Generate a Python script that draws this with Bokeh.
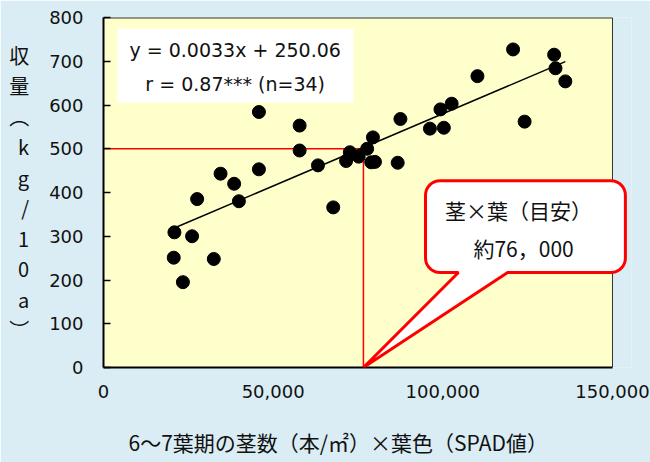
import numpy as np
from bokeh.plotting import figure
from bokeh.models import (Label, BoxAnnotation, PolyAnnotation, Title,
                          NumeralTickFormatter, Range1d)
from bokeh.embed import file_html
from bokeh.resources import INLINE

# ---------------- data ----------------
stem_x_leaf = [20700, 20900, 23400, 26100, 27600, 32500, 34500, 38500, 39900,
               45800, 45800, 57800, 57800, 63200, 67700, 71500, 72600, 75200,
               77700, 79400, 78900, 80000, 86700, 87500, 96200, 100300, 99300,
               102600, 110200, 120700, 124100, 132800, 133200, 136100]
yield_kg = [251, 309, 195, 300, 385, 248, 443, 420, 380,
            584, 453, 553, 496, 462, 366, 472, 492, 482,
            500, 526, 469, 470, 468, 568, 546, 548, 590,
            603, 666, 727, 562, 715, 684, 654]

x_ticks = [0, 50000, 100000, 150000]
y_ticks = [0, 100, 200, 300, 400, 500, 600, 700, 800]
x_max, y_max = 150000, 800

slope = 0.0033
intercept = 250.06
target_x = 76600     # 約76,000 (threshold of stems x leaf colour)
target_y = 500       # target yield 500 kg/10a

eq_lines = ["y = 0.0033x + 250.06", "r = 0.87*** (n=34)"]
callout_lines = ["茎×葉（目安）", "約76，000"]
x_title = "6～7葉期の茎数（本/㎡）×葉色（SPAD値）"
y_title_chars = ["収", "量", "︵", "k", "g", "/", "1", "0", "a", "︶"]

# ---------------- styling ----------------
BG = "#daedf4"
PLOT_BG = "#ffffcc"
TXT = "#111111"
NUM_FONT = "DejaVu Sans"
JP_FONT = "Noto Sans CJK JP"

# the frame is a little wider than the data area so that the balloon
# (which sticks out past the right border) is not clipped
p = figure(width=650, height=462,
           x_range=Range1d(0, 155600), y_range=Range1d(0, y_max),
           output_backend="svg", toolbar_location=None,
           min_border_left=103, min_border_right=19,
           min_border_top=17, min_border_bottom=95)

p.background_fill_color = BG
p.border_fill_color = BG
p.outline_line_color = None
p.grid.visible = False

# plot area (data area) fill and its thin top/right border
p.add_layout(BoxAnnotation(left=0, right=x_max, bottom=0, top=y_max,
                           fill_color=PLOT_BG, fill_alpha=1.0,
                           line_color=None, level="underlay"))
p.line([0, x_max], [y_max, y_max], line_color="#333333", line_width=2)
p.line([x_max, x_max], [0, y_max], line_color="#333333", line_width=1)

for ax in (p.xaxis[0], p.yaxis[0]):
    ax.axis_line_color = "black"
    ax.axis_line_width = 2
    ax.minor_tick_line_color = None
    ax.major_label_text_font = NUM_FONT
    ax.major_label_text_font_size = "18px"
    ax.major_label_text_color = TXT

p.xaxis.bounds = (0, x_max)
p.xaxis.ticker = x_ticks
p.xaxis.formatter = NumeralTickFormatter(format="0,0")
p.xaxis.major_tick_in = 0
p.xaxis.major_tick_out = 0
p.xaxis.major_label_standoff = 17

# x-axis title, placed below the axis and centred under the data area
x_title_box = Title(text=x_title, align="left", offset=25,
                    text_font=JP_FONT, text_font_size="21px",
                    text_font_style="normal", text_color=TXT)
try:
    x_title_box.vertical_align = "top"
    x_title_box.standoff = 0
    x_title_box.padding = dict(left=0, right=0, top=26, bottom=0)
except Exception:
    x_title_box.vertical_align = "bottom"
    x_title_box.standoff = 22
p.add_layout(x_title_box, "below")

p.yaxis.ticker = y_ticks
p.yaxis.major_tick_in = 7
p.yaxis.major_tick_out = 0
p.yaxis.major_tick_line_width = 1.5
p.yaxis.major_tick_line_color = "black"
p.yaxis.major_label_standoff = 20
# vertical stacked y-axis title
p.yaxis.axis_label = "\n".join(y_title_chars)
p.yaxis.axis_label_orientation = "horizontal"
p.yaxis.axis_label_text_font = JP_FONT
p.yaxis.axis_label_text_font_size = "20px"
p.yaxis.axis_label_text_font_style = "normal"
p.yaxis.axis_label_text_color = TXT
p.yaxis.axis_label_text_line_height = 1.05
p.yaxis.axis_label_standoff = 17

# red guide lines
p.line([0, target_x], [target_y, target_y], line_color="red", line_width=1.5)
p.line([target_x, target_x], [0, target_y], line_color="red", line_width=1.5)

# regression line
x_fit = [min(stem_x_leaf), max(stem_x_leaf)]
y_fit = [slope * v + intercept for v in x_fit]
p.line(x_fit, y_fit, line_color="black", line_width=1.5)

# points
p.scatter(stem_x_leaf, yield_kg, size=13, color="black")

# equation box
p.add_layout(BoxAnnotation(left=4100, right=73700, bottom=606, top=775,
                           fill_color="white", fill_alpha=1.0,
                           line_color=None))
for txt, yy in zip(eq_lines, [725, 649]):
    p.add_layout(Label(x=38800, y=yy, text=txt, text_font=NUM_FONT,
                       text_font_size="19px", text_color=TXT,
                       text_align="center", text_baseline="middle"))

# callout balloon
def balloon(l, r, b, t, rx, ry, tail_l, tail_r, tip_x, tip_y, n=10):
    xs, ys = [tip_x, tail_r], [tip_y, b]

    def arc(cx, cy, a0, a1):
        for a in np.linspace(a0, a1, n):
            xs.append(cx + rx * np.cos(a))
            ys.append(cy + ry * np.sin(a))
    arc(r - rx, b + ry, -np.pi / 2, 0)
    arc(r - rx, t - ry, 0, np.pi / 2)
    arc(l + rx, t - ry, np.pi / 2, np.pi)
    arc(l + rx, b + ry, np.pi, 1.5 * np.pi)
    xs.append(tail_l)
    ys.append(b)
    return [float(v) for v in xs], [float(v) for v in ys]

bx, by = balloon(94900, 153800, 217, 427, 4300, 33,
                 104600, 119100, target_x, 0)
p.add_layout(PolyAnnotation(xs=bx, ys=by, fill_color="white", fill_alpha=1.0,
                            line_color="red", line_alpha=1.0, line_width=3,
                            level="overlay"))
for txt, xx, yy in zip(callout_lines, [122300, 123800], [359, 274]):
    p.add_layout(Label(x=xx, y=yy, text=txt, text_font=JP_FONT,
                       text_font_size="21px", text_color=TXT,
                       text_align="center", text_baseline="middle",
                       level="overlay"))

open("out.html", "w").write(file_html(p, INLINE))
